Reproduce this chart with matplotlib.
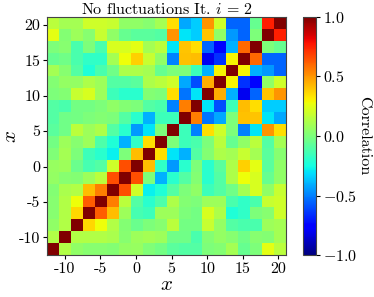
import numpy as np
import matplotlib
matplotlib.use("Agg")
import matplotlib.pyplot as plt

plt.rcParams["font.family"] = "serif"
plt.rcParams["font.serif"] = ["cmr10"]
plt.rcParams["mathtext.fontset"] = "cm"
plt.rcParams["axes.formatter.use_mathtext"] = True

# correlation matrix, rows = y (bottom to top), cols = x (left to right)
corr = np.array([
    [1.00, 0.13, 0.05, 0.03, 0.03, 0.02, 0.06, 0.07, 0.01, -0.02, -0.08, -0.10, -0.10, 0.00, 0.02, 0.10, -0.05, 0.00, 0.25, 0.15],
    [0.13, 1.00, 0.13, 0.13, 0.13, 0.11, 0.03, 0.08, 0.10, 0.08, -0.03, -0.03, -0.12, 0.02, 0.06, 0.03, -0.03, 0.03, 0.02, 0.10],
    [0.05, 0.13, 1.00, 0.36, 0.28, 0.13, 0.02, -0.04, 0.00, 0.03, 0.15, -0.02, -0.02, 0.18, 0.06, -0.10, -0.12, -0.12, 0.08, 0.10],
    [0.03, 0.13, 0.36, 1.00, 0.62, 0.42, 0.08, -0.13, -0.15, 0.08, 0.08, 0.00, -0.02, 0.22, 0.12, -0.22, -0.18, 0.00, 0.03, 0.20],
    [0.03, 0.13, 0.28, 0.62, 1.00, 0.55, 0.15, -0.10, -0.20, -0.11, 0.12, 0.02, 0.00, 0.08, 0.08, -0.12, -0.18, -0.12, 0.18, 0.20],
    [0.02, 0.11, 0.13, 0.42, 0.55, 1.00, 0.65, 0.20, -0.28, -0.22, -0.10, 0.00, 0.05, -0.15, -0.10, -0.03, 0.10, 0.22, 0.05, 0.18],
    [0.06, 0.03, 0.02, 0.08, 0.15, 0.65, 1.00, 0.65, 0.00, -0.40, -0.20, -0.10, 0.02, -0.20, -0.10, 0.12, 0.28, 0.22, -0.05, 0.05],
    [0.07, 0.08, -0.04, -0.13, -0.10, 0.20, 0.65, 1.00, 0.42, -0.18, -0.45, -0.20, 0.00, -0.20, -0.08, 0.12, 0.38, 0.25, -0.08, 0.05],
    [0.01, 0.10, 0.00, -0.15, -0.20, -0.28, 0.00, 0.42, 1.00, 0.35, -0.30, -0.40, -0.10, 0.02, 0.12, 0.10, 0.18, 0.10, -0.08, 0.03],
    [-0.02, 0.08, 0.03, 0.08, -0.11, -0.22, -0.40, -0.18, 0.35, 1.00, 0.00, -0.15, -0.12, 0.00, 0.15, -0.05, 0.05, 0.15, -0.10, 0.10],
    [-0.08, -0.03, 0.15, 0.08, 0.12, -0.10, -0.20, -0.45, -0.30, 0.00, 1.00, -0.15, -0.50, 0.35, 0.20, 0.00, -0.50, -0.30, 0.50, 0.35],
    [-0.10, -0.03, -0.02, 0.00, 0.02, 0.00, -0.10, -0.20, -0.40, -0.15, -0.15, 1.00, 0.55, -0.52, -0.42, 0.00, 0.41, 0.40, -0.30, -0.42],
    [-0.10, -0.12, -0.02, -0.02, 0.00, 0.05, 0.02, 0.00, -0.10, -0.12, -0.50, 0.55, 1.00, -0.30, -0.60, -0.15, 0.42, 0.35, -0.35, -0.35],
    [0.00, 0.02, 0.18, 0.22, 0.08, -0.15, -0.20, -0.20, 0.02, 0.00, 0.35, -0.52, -0.30, 1.00, 0.45, -0.40, -0.80, -0.55, 0.40, 0.50],
    [0.02, 0.06, 0.06, 0.12, 0.08, -0.10, -0.10, -0.08, 0.12, 0.15, 0.20, -0.42, -0.60, 0.45, 1.00, 0.30, -0.65, -0.75, 0.05, 0.20],
    [0.10, 0.03, -0.10, -0.22, -0.12, -0.03, 0.12, 0.12, 0.10, -0.05, 0.00, 0.00, -0.15, -0.40, 0.30, 1.00, 0.30, -0.40, -0.45, -0.55],
    [-0.05, -0.03, -0.12, -0.18, -0.18, 0.10, 0.28, 0.38, 0.18, 0.05, -0.50, 0.41, 0.42, -0.80, -0.65, 0.30, 1.00, 0.60, -0.55, -0.55],
    [0.00, 0.03, -0.12, 0.00, -0.12, 0.22, 0.22, 0.25, 0.10, 0.15, -0.30, 0.40, 0.35, -0.55, -0.75, -0.40, 0.60, 1.00, 0.00, -0.05],
    [0.25, 0.02, 0.08, 0.03, 0.18, 0.05, -0.05, -0.08, -0.08, -0.10, 0.50, -0.30, -0.35, 0.40, 0.05, -0.45, -0.55, 0.00, 1.00, 0.75],
    [0.15, 0.10, 0.10, 0.20, 0.20, 0.18, 0.05, 0.05, 0.03, 0.10, 0.35, -0.42, -0.35, 0.50, 0.20, -0.55, -0.55, -0.05, 0.75, 1.00],
])

ticks = [-10, -5, 0, 5, 10, 15, 20]
tick_labels = ["-10", "-5", "0", "5", "10", "15", "20"]
cbar_ticks = [-1.0, -0.5, 0.0, 0.5, 1.0]

n = corr.shape[0]
edges = np.linspace(-12.5, 21.1, n + 1)

fig = plt.figure(figsize=(3.74, 2.97), dpi=100)
ax = fig.add_axes([0.126, 0.141, 0.639, 0.802])
cax = fig.add_axes([0.81, 0.141, 0.035, 0.802])

mesh = ax.pcolormesh(edges, edges, corr, cmap="jet", vmin=-1, vmax=1)
ax.set_xlim(edges[0], edges[-1])
ax.set_ylim(edges[0], edges[-1])
ax.set_xticks(ticks)
ax.set_xticklabels(tick_labels)
ax.set_yticks(ticks)
ax.set_yticklabels(tick_labels)
ax.tick_params(labelsize=11.5, length=3, pad=2)
for s in ax.spines.values():
    s.set_color("#444444")
ax.set_xlabel("$x$", fontsize=15, labelpad=0)
ax.set_ylabel("$x$", fontsize=15)
ax.yaxis.set_label_coords(-0.112, 0.5)
ax.set_title("No fluctuations It. $i\\,=\\,2$", fontsize=11.5, pad=2)

cb = fig.colorbar(mesh, cax=cax, ticks=cbar_ticks)
cb.ax.tick_params(labelsize=11.5, length=3, pad=2)
cb.outline.set_edgecolor("#444444")
cb.set_label("Correlation", rotation=270, fontsize=11.5, labelpad=10)

fig.savefig("out.png", dpi=100)
